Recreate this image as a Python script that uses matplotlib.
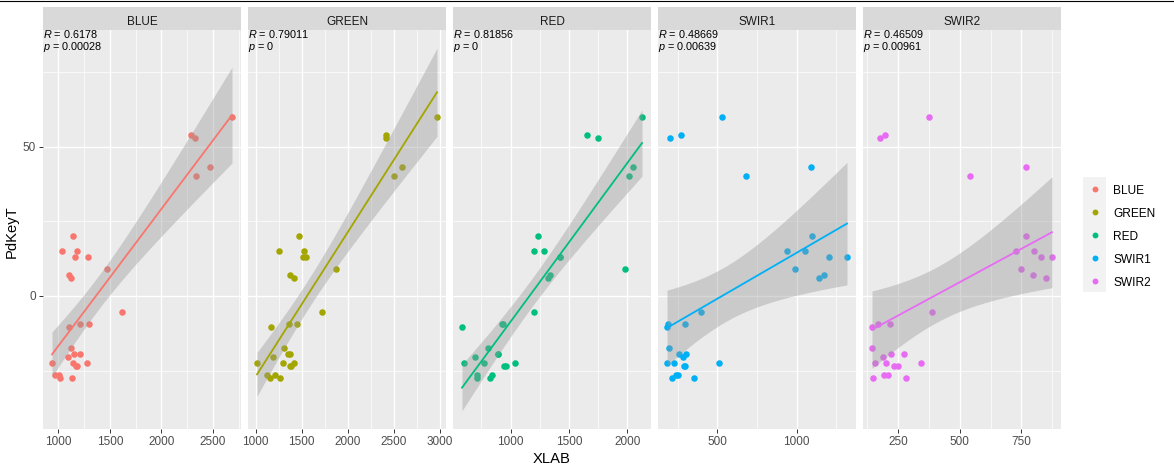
import numpy as np
import matplotlib.pyplot as plt
from matplotlib.ticker import MultipleLocator, AutoMinorLocator
from matplotlib.lines import Line2D

plt.rcParams['font.family'] = ['Liberation Sans', 'DejaVu Sans']
plt.rcParams['mathtext.fontset'] = 'custom'
plt.rcParams['mathtext.rm'] = 'Liberation Sans'
plt.rcParams['mathtext.it'] = 'Liberation Sans:italic'

# --- data ---
bands = ['BLUE', 'GREEN', 'RED', 'SWIR1', 'SWIR2']
colors = ['#F8766D', '#A3A500', '#00BF7D', '#00B0F6', '#E76BF3']

pdkeyt = [60, 54, 53, 43, 40, 20, 15, 15, 13, 13, 9, 7, 6, -5.5, -9.5, -9.5, -10.5,
          -17.5, -19.5, -19.5, -20.5, -22.5, -22.5, -22.5, -23.5, -23.5, -26.4, -26.4,
          -27.4, -27.4]

blue = [2684, 2286, 2325, 2471, 2335, 1142, 1035, 1180, 1161, 1287, 1471, 1103, 1122,
        1617, 1210, 1297, 1103, 1122, 1151, 1210, 1093, 938, 1142, 1277, 1171, 1180,
        967, 1006, 1016, 1132]
green = [2971, 2413, 2413, 2590, 2503, 1471, 1253, 1525, 1514, 1551, 1873, 1373, 1416,
         1721, 1362, 1449, 1166, 1308, 1351, 1377, 1188, 1014, 1297, 1416, 1373, 1388,
         1123, 1210, 1155, 1264]
red = [2126, 1654, 1748, 2048, 2014, 1234, 1200, 1285, 1420, 1425, 1980, 1334, 1320,
       1200, 925, 931, 583, 805, 889, 895, 694, 600, 771, 1037, 946, 960, 711, 840,
       711, 823]
swir1 = [529, 271, 201, 1090, 680, 1096, 939, 1052, 1203, 1317, 989, 1172, 1140, 397,
         189, 296, 182, 195, 258, 302, 283, 182, 226, 510, 289, 296, 239, 252, 214, 353]
swir2 = [376, 197, 177, 769, 542, 769, 728, 801, 830, 874, 749, 797, 850, 388, 169,
         218, 145, 145, 222, 274, 189, 157, 201, 343, 234, 250, 193, 209, 149, 282]

r_labels = ['0.6178', '0.79011', '0.81856', '0.48669', '0.46509']
p_labels = ['0.00028', '0', '0', '0.00639', '0.00961']
x_steps = [500, 500, 500, 500, 250]

band_x = [blue, green, red, swir1, swir2]
T_CRIT = 2.048  # t quantile, df = 28

W, H = 1174, 474
fig = plt.figure(figsize=(W / 100, H / 100), dpi=100)


def px_box(x0, y0, x1, y1):
    return [x0 / W, 1 - y1 / H, (x1 - x0) / W, (y1 - y0) / H]


# linear fits with 95% confidence band (geom_smooth(method='lm'))
y = np.array(pdkeyt, float)
n = len(y)
fits = []
for xs in band_x:
    x = np.array(xs, float)
    b, a = np.polyfit(x, y, 1)
    s = np.sqrt(np.sum((y - (a + b * x)) ** 2) / (n - 2))
    grid = np.linspace(x.min(), x.max(), 80)
    fit = a + b * grid
    se = s * np.sqrt(1 / n + (grid - x.mean()) ** 2 / np.sum((x - x.mean()) ** 2))
    fits.append((grid, fit, fit - T_CRIT * se, fit + T_CRIT * se))

ylo = min(y.min(), min(f[2].min() for f in fits))
yhi = max(y.max(), max(f[3].max() for f in fits))
ypad = 0.05 * (yhi - ylo)

panel_left = [43, 248, 453, 658, 863]
panel_w = 198
top, bottom, strip_top = 30, 429, 7

for i, band in enumerate(bands):
    l = panel_left[i]
    ax = fig.add_axes(px_box(l, top, l + panel_w, bottom))
    ax.set_facecolor('#EBEBEB')
    ax.set_axisbelow(True)
    x = np.array(band_x[i], float)
    xpad = 0.05 * (x.max() - x.min())
    ax.set_xlim(x.min() - xpad, x.max() + xpad)
    ax.set_ylim(ylo - ypad, yhi + ypad)

    ax.scatter(x, y, s=22, color=colors[i], linewidths=0, zorder=2)
    grid, fit, lo, hi = fits[i]
    ax.fill_between(grid, lo, hi, color='#999999', alpha=0.4, linewidth=0, zorder=3)
    ax.plot(grid, fit, color=colors[i], lw=1.3, zorder=4)

    ax.xaxis.set_major_locator(MultipleLocator(x_steps[i]))
    ax.xaxis.set_minor_locator(AutoMinorLocator(2))
    ax.yaxis.set_major_locator(MultipleLocator(50))
    ax.yaxis.set_minor_locator(AutoMinorLocator(2))
    ax.grid(which='major', color='white', lw=1.0)
    ax.grid(which='minor', color='white', lw=0.5)
    for sp in ax.spines.values():
        sp.set_visible(False)
    ax.tick_params(which='major', length=2.7, width=0.7, color='#333333',
                   labelsize=8.5, labelcolor='#4D4D4D', pad=2.2)
    ax.tick_params(which='minor', length=0)
    if i > 0:
        ax.tick_params(axis='y', which='both', left=False, labelleft=False)

    ax.annotate('$R$ = ' + r_labels[i], xy=(0, 1), xycoords='axes fraction',
                xytext=(0, -5.5), textcoords='offset points', ha='left',
                va='baseline', fontsize=7.8, color='black', zorder=5)
    ax.annotate('$p$ = ' + p_labels[i], xy=(0, 1), xycoords='axes fraction',
                xytext=(0, -14.6), textcoords='offset points', ha='left',
                va='baseline', fontsize=7.8, color='black', zorder=5)

    sax = fig.add_axes(px_box(l, strip_top, l + panel_w, top))
    sax.set_facecolor('#D9D9D9')
    sax.set_xticks([])
    sax.set_yticks([])
    for sp in sax.spines.values():
        sp.set_visible(False)
    sax.text(0.5, (top - 25) / (top - strip_top), band, ha='center', va='baseline',
             fontsize=8.5, color='#1A1A1A', transform=sax.transAxes)

# legend
lax = fig.add_axes(px_box(1083, 177, 1106, 292))
lax.set_facecolor('#F2F2F2')
lax.set_xlim(0, 1)
lax.set_ylim(4.5, -0.5)
lax.set_xticks([])
lax.set_yticks([])
for sp in lax.spines.values():
    sp.set_visible(False)
for i, band in enumerate(bands):
    lax.scatter([0.5], [i], s=18, color=colors[i], linewidths=0)
    lax.text(30 / 23, i + 0.25, band, ha='left', va='baseline', fontsize=8.6,
             color='black', clip_on=False)

fig.text(552 / W, 1 - 459 / H, 'XLAB', ha='center', va='center', fontsize=10.6)
fig.text(12 / W, 1 - 232 / H, 'PdKeyT', ha='center', va='center', rotation=90,
         fontsize=10.6)
fig.add_artist(Line2D([0, 1], [1 - 0.5 / H, 1 - 0.5 / H], color='black', lw=0.8))

fig.savefig('out.png', dpi=100)
